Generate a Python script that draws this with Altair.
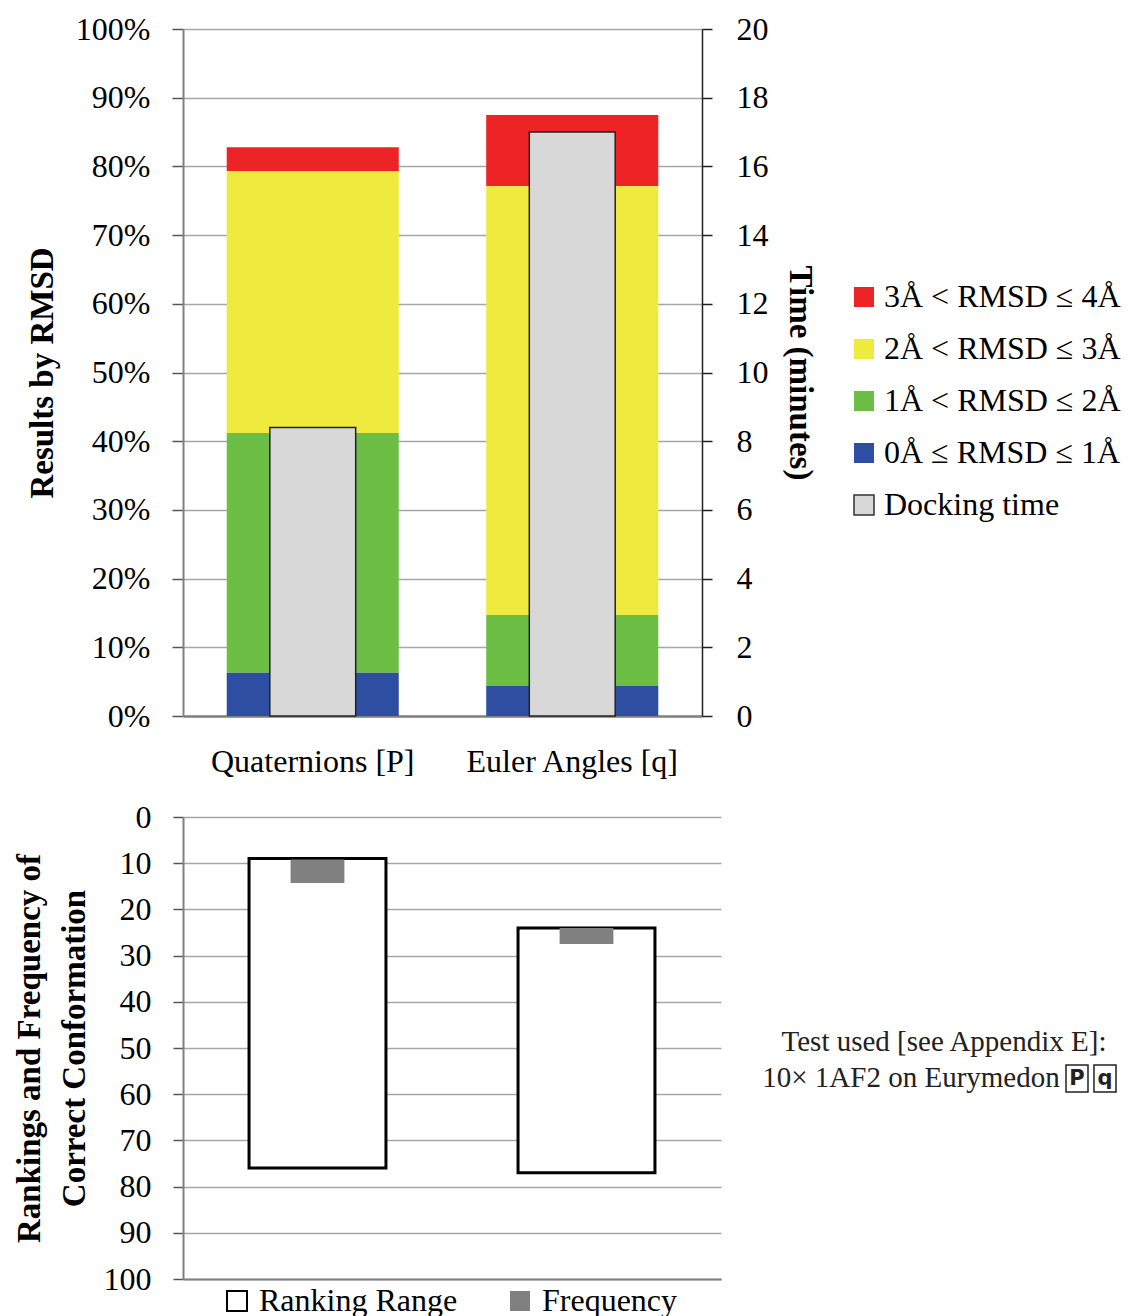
import altair as alt
import pandas as pd

FONT = "Liberation Serif"

# ---------------- data ----------------
categories = ["Quaternions [P]", "Euler Angles [q]"]
rmsd_bands = ["3Å < RMSD ≤ 4Å", "2Å < RMSD ≤ 3Å", "1Å < RMSD ≤ 2Å", "0Å ≤ RMSD ≤ 1Å"]
band_colors = ["#EE2325", "#EEEB3E", "#6DBE45", "#2E4FA1"]
quat_pct = [3.5, 38.1, 34.9, 6.3]     # red, yellow, green, blue (percent)
euler_pct = [10.4, 62.4, 10.3, 4.4]
docking_label = "Docking time"
docking_color = "#D8D8D8"
docking_minutes = [8.4, 17.0]

rank_start = [9, 24]
rank_end = [76, 77]
freq_start = [9.2, 24.0]
freq_end = [14.3, 27.5]
bottom_kinds = ["Ranking Range", "Frequency"]
bottom_colors = ["#FFFFFF", "#808080"]

pct_ticks = list(range(0, 101, 10))
time_ticks = list(range(0, 21, 2))
rank_ticks = list(range(0, 101, 10))

note_line1 = "Test used [see Appendix E]:"
note_line2 = "10× 1AF2 on Eurymedon"

# ---------------- tables ----------------
rows = []
for cat, vals in zip(categories, [quat_pct, euler_pct]):
    for i, (b, v) in enumerate(zip(rmsd_bands, vals)):
        rows.append({"category": cat, "band": b, "value": v, "ord": len(rmsd_bands) - i})
df_stack = pd.DataFrame(rows)
df_dock = pd.DataFrame({"category": categories, "band": [docking_label] * 2, "time": docking_minutes})
df_rank = pd.DataFrame({"category": categories, "start": rank_start, "end": rank_end, "kind": ["Ranking Range"] * 2})
df_freq = pd.DataFrame({"category": categories, "start": freq_start, "end": freq_end, "kind": ["Frequency"] * 2})

legend_domain = rmsd_bands + [docking_label]
legend_range = band_colors + [docking_color]

x_top = alt.X(
    "category:N",
    sort=categories,
    scale=alt.Scale(domain=categories, paddingInner=0, paddingOuter=0),
    axis=alt.Axis(title=None, labelAngle=0, labelFontSize=32, labelFont=FONT, labelColor="#000",
                  labelLimit=400, ticks=False, labelPadding=30, domainColor="#808080", domainWidth=2.5),
)

color_top = alt.Color(
    "band:N",
    scale=alt.Scale(domain=legend_domain, range=legend_range),
    legend=alt.Legend(
        title=None, orient="none", legendX=665, legendY=252, direction="vertical",
        symbolType="square", symbolSize=400,
        symbolStrokeColor=alt.ExprRef("datum.value === 'Docking time' ? '#333333' : 'transparent'"),
        symbolStrokeWidth=alt.ExprRef("datum.value === 'Docking time' ? 1.5 : 0"),
        labelFontSize=32, labelFont=FONT, labelColor="#000", labelOffset=4,
        rowPadding=20, padding=0, labelLimit=400,
    ),
)

stack = alt.Chart(df_stack).mark_bar(width=alt.RelativeBandSize(0.663)).encode(
    x=x_top,
    y=alt.Y("value:Q", stack="zero",
            scale=alt.Scale(domain=[0, 100], nice=False),
            axis=alt.Axis(title="Results by RMSD", values=pct_ticks,
                          labelExpr="datum.value + '%'",
                          labelFontSize=32, labelFont=FONT, labelColor="#000",
                          titleFontSize=33, titleFont=FONT, titleFontWeight="bold", titleColor="#000",
                          titlePadding=16, tickSize=11, tickColor="#555", tickWidth=1.5,
                          labelPadding=22, domainColor="#808080", domainWidth=2,
                          grid=True, gridColor="#A6A6A6", gridWidth=1.5)),
    color=color_top,
    order=alt.Order("ord:Q"),
)

dock = alt.Chart(df_dock).mark_bar(width=alt.RelativeBandSize(0.331), stroke="#222", strokeWidth=1.5).encode(
    x=x_top,
    y=alt.Y("time:Q", scale=alt.Scale(domain=[0, 20], nice=False),
            axis=alt.Axis(orient="right", title="Time (minutes)", values=time_ticks,
                          labelFontSize=32, labelFont=FONT, labelColor="#000",
                          titleFontSize=33, titleFont=FONT, titleFontWeight="bold", titleColor="#000",
                          titleAngle=90, titlePadding=14, tickSize=10, tickColor="#222", tickWidth=1.5,
                          labelPadding=24, domainColor="#222", domainWidth=1.5, grid=False)),
    color=color_top,
)

top = alt.layer(stack, dock).resolve_scale(y="independent").properties(width=519, height=687)

# ---------------- bottom ----------------
x_bot = alt.X(
    "category:N",
    sort=categories,
    scale=alt.Scale(domain=categories, paddingInner=0, paddingOuter=0),
    axis=alt.Axis(title=None, labels=False, ticks=False, domainColor="#808080", domainWidth=2),
)
y_bot = alt.Y(
    "start:Q",
    scale=alt.Scale(domain=[0, 100], reverse=True, nice=False),
    axis=alt.Axis(title=["Rankings and Frequency of", "Correct Conformation"], values=rank_ticks,
                  labelFontSize=32, labelFont=FONT, labelColor="#000",
                  titleFontSize=33, titleFont=FONT, titleFontWeight="bold", titleColor="#000",
                  titleLineHeight=45, titlePadding=12, tickSize=10, tickColor="#555", tickWidth=1.5,
                  labelPadding=22, domainColor="#808080", domainWidth=2,
                  grid=True, gridColor="#A6A6A6", gridWidth=1.5),
)
color_bot = alt.Color(
    "kind:N",
    scale=alt.Scale(domain=bottom_kinds, range=bottom_colors),
    legend=alt.Legend(
        title=None, orient="none", legendX=38, legendY=468, direction="horizontal",
        symbolType="square", symbolSize=400,
        symbolStrokeColor=alt.ExprRef("datum.value === 'Ranking Range' ? '#000000' : 'transparent'"),
        symbolStrokeWidth=alt.ExprRef("datum.value === 'Ranking Range' ? 2 : 0"),
        labelFontSize=32, labelFont=FONT, labelColor="#000", labelOffset=6,
        columnPadding=46, padding=0, labelLimit=400,
    ),
)

rank = alt.Chart(df_rank).mark_bar(width=alt.RelativeBandSize(0.509), stroke="#000", strokeWidth=3).encode(
    x=x_bot, y=y_bot, y2="end:Q", color=color_bot,
)
freq = alt.Chart(df_freq).mark_bar(width=alt.RelativeBandSize(0.2)).encode(
    x=x_bot, y=y_bot, y2="end:Q", color=color_bot,
)

note1 = alt.Chart(pd.DataFrame({"t": [note_line1]})).mark_text(
    font=FONT, fontSize=29, color="#222", align="center", baseline="middle"
).encode(x=alt.value(761), y=alt.value(225), text="t:N")
note2 = alt.Chart(pd.DataFrame({"t": [note_line2]})).mark_text(
    font=FONT, fontSize=29, color="#222", align="center", baseline="middle"
).encode(x=alt.value(728), y=alt.value(261), text="t:N")
boxes = alt.Chart(pd.DataFrame({"g": ["P", "q"], "x": [883, 911], "x2": [905, 933]})).mark_rect(
    fill="white", stroke="#222", strokeWidth=1.5
).encode(x=alt.X("x:Q", scale=None), x2="x2:Q", y=alt.value(248), y2=alt.value(275))
glyphs = alt.Chart(pd.DataFrame({"g": ["P", "q"], "x": [894, 922]})).mark_text(
    font="DejaVu Sans", fontWeight="bold", fontSize=21, color="#222", align="center", baseline="middle"
).encode(x=alt.X("x:Q", scale=None), y=alt.value(262), text="g:N")

bottom = alt.layer(rank, freq, note1, note2, boxes, glyphs).properties(width=538, height=462)

chart = (
    alt.vconcat(top, bottom, spacing=24)
    .resolve_scale(color="independent")
    .resolve_legend(color="independent")
    .properties(padding={"left": 5, "top": 5, "right": 0, "bottom": 0})
    .configure_view(stroke=None)
)

chart.save("out.html", embed_options={"renderer": "svg", "actions": False})
